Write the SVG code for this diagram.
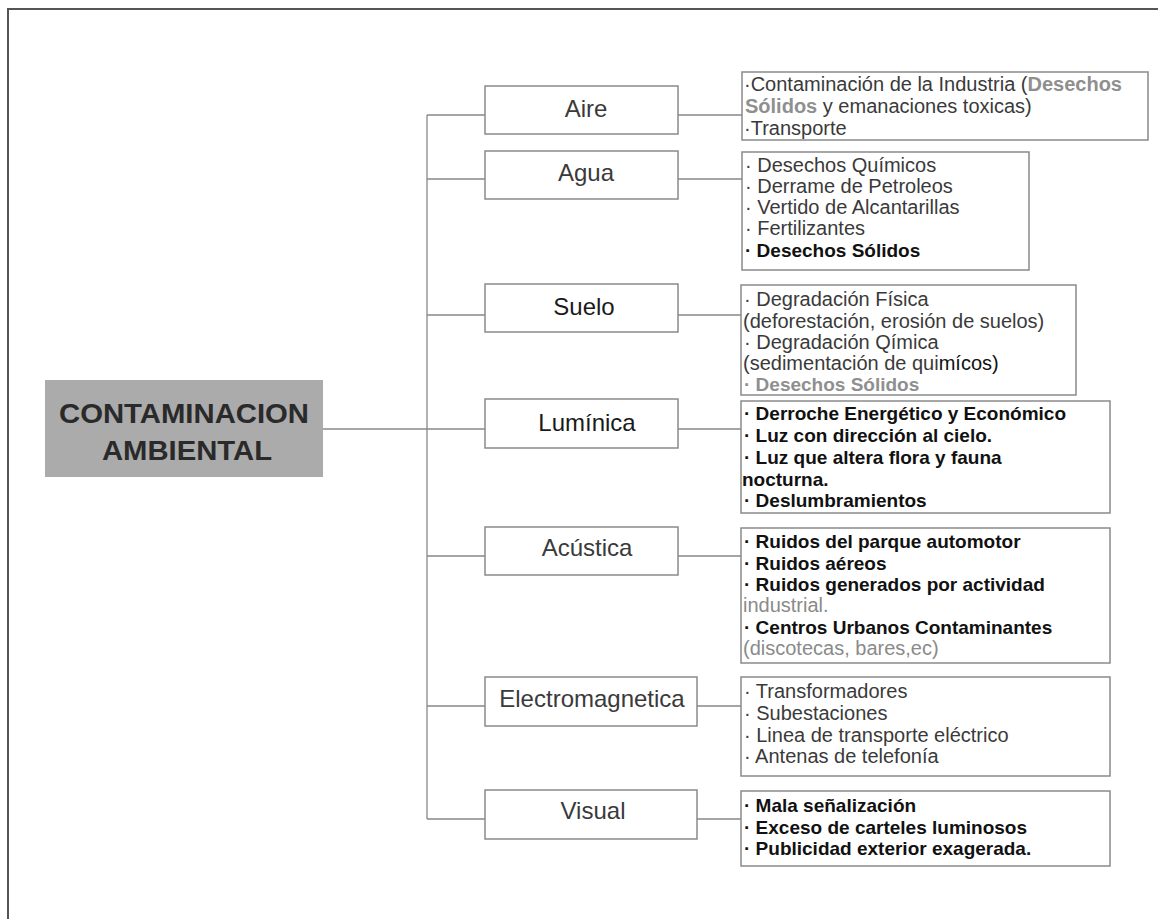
<svg xmlns="http://www.w3.org/2000/svg" width="1158" height="919" viewBox="0 0 1158 919">
<style>
.frame{fill:none;stroke:#555;stroke-width:2}
.cat{fill:#fff;stroke:#8a8a8a;stroke-width:1.5}
.det{fill:#fff;stroke:#8a8a8a;stroke-width:1.5}
.con{fill:none;stroke:#888;stroke-width:1.3}
.ct{font-family:"Liberation Sans",Arial,sans-serif;font-size:24px;fill:#3a3a3a;text-anchor:middle}
.t{font-family:"Liberation Sans",Arial,sans-serif;font-size:20px;fill:#3a3a3a}
.b{font-family:"Liberation Sans",Arial,sans-serif;font-size:19px;font-weight:bold;fill:#111}
.gb{font-weight:bold;fill:#8f8f8f}
.g{fill:#8a8a8a}
.rt{font-family:"Liberation Sans",Arial,sans-serif;font-size:27px;font-weight:bold;fill:#2a2a2a;text-anchor:middle}
</style>
<rect width="1158" height="919" fill="#fff"/>
<path class="frame" d="M8,919 V9 H1158"/>
<g id="connectors">
<path class="con" d="M323,429 H485"/>
<path class="con" d="M427,115 V819"/>
<path class="con" d="M427,115 H485 M427,179 H485 M427,315 H485 M427,556 H485 M427,706 H485 M427,819 H485"/>
<path class="con" d="M678,115 H742 M678,179 H742 M678,315 H741 M678,429 H741 M678,556 H741 M697,706 H741 M697,819 H741"/>
</g>
<g id="root">
<rect x="45" y="380" width="278" height="97" fill="#ababab"/>
<text class="rt" x="184" y="423" textLength="250" lengthAdjust="spacingAndGlyphs">CONTAMINACION</text>
<text class="rt" x="187" y="460" textLength="170" lengthAdjust="spacingAndGlyphs">AMBIENTAL</text>
</g>
<g id="aire"><rect class="cat" x="485" y="86" width="193" height="48"/><text class="ct" x="586" y="117">Aire</text></g>
<g id="agua"><rect class="cat" x="485" y="151" width="193" height="48"/><text class="ct" x="586" y="181">Agua</text></g>
<g id="suelo"><rect class="cat" x="485" y="284" width="193" height="48"/><text class="ct" x="584" y="315" style="fill:#1a1a1a">Suelo</text></g>
<g id="luminica"><rect class="cat" x="485" y="399" width="193" height="49"/><text class="ct" x="587" y="431" style="fill:#1a1a1a">Lumínica</text></g>
<g id="acustica"><rect class="cat" x="485" y="527" width="193" height="48"/><text class="ct" x="587" y="556">Acústica</text></g>
<g id="electromagnetica"><rect class="cat" x="485" y="677" width="212" height="49"/><text class="ct" x="592" y="707">Electromagnetica</text></g>
<g id="visual"><rect class="cat" x="485" y="790" width="212" height="49"/><text class="ct" x="593" y="819">Visual</text></g>

<g id="aire-det">
<rect class="det" x="742" y="72" width="406" height="68"/>
<text class="t" x="744" y="91">·Contaminación de la Industria (<tspan class="gb">Desechos</tspan></text>
<text class="t" x="745" y="113"><tspan class="gb">Sólidos</tspan> y emanaciones toxicas)</text>
<text class="t" x="744" y="135">·Transporte</text>
</g>
<g id="agua-det">
<rect class="det" x="742" y="152" width="287" height="118"/>
<text class="t" x="745" y="172">· Desechos Químicos</text>
<text class="t" x="745" y="193">· Derrame de Petroleos</text>
<text class="t" x="745" y="214">· Vertido de Alcantarillas</text>
<text class="t" x="745" y="235">· Fertilizantes</text>
<text class="b" x="745" y="257">· Desechos Sólidos</text>
</g>
<g id="suelo-det">
<rect class="det" x="741" y="285" width="335" height="110"/>
<text class="t" x="744" y="306">· Degradación Física</text>
<text class="t" x="743" y="328">(deforestación, erosión de suelos)</text>
<text class="t" x="744" y="349">· Degradación Qímica</text>
<text class="t" x="743" y="370">(sedimentación de qui<tspan style="fill:#111">mícos)</tspan></text>
<text class="b" x="744" y="391" style="fill:#8f8f8f">· Desechos Sólidos</text>
</g>
<g id="luminica-det">
<rect class="det" x="741" y="401" width="369" height="112"/>
<text class="b" x="744" y="420">· Derroche Energético y Económico</text>
<text class="b" x="744" y="442">· Luz con dirección al cielo.</text>
<text class="b" x="744" y="464">· Luz que altera flora y fauna</text>
<text class="b" x="742" y="486">nocturna.</text>
<text class="b" x="744" y="507">· Deslumbramientos</text>
</g>
<g id="acustica-det">
<rect class="det" x="741" y="528" width="369" height="135"/>
<text class="b" x="744" y="548">· Ruidos del parque automotor</text>
<text class="b" x="744" y="570">· Ruidos aéreos</text>
<text class="b" x="744" y="591">· Ruidos generados por actividad</text>
<text class="t g" x="743" y="612">industrial.</text>
<text class="b" x="744" y="634">· Centros Urbanos Contaminantes</text>
<text class="t g" x="743" y="655">(discotecas, bares,ec)</text>
</g>
<g id="electro-det">
<rect class="det" x="741" y="677" width="369" height="99"/>
<text class="t" x="744" y="698">· Transformadores</text>
<text class="t" x="744" y="720">· Subestaciones</text>
<text class="t" x="744" y="742">· Linea de transporte eléctrico</text>
<text class="t" x="744" y="763">· Antenas de telefonía</text>
</g>
<g id="visual-det">
<rect class="det" x="741" y="791" width="369" height="75"/>
<text class="b" x="744" y="812">· Mala señalización</text>
<text class="b" x="744" y="834">· Exceso de carteles luminosos</text>
<text class="b" x="744" y="855">· Publicidad exterior exagerada.</text>
</g>
</svg>
